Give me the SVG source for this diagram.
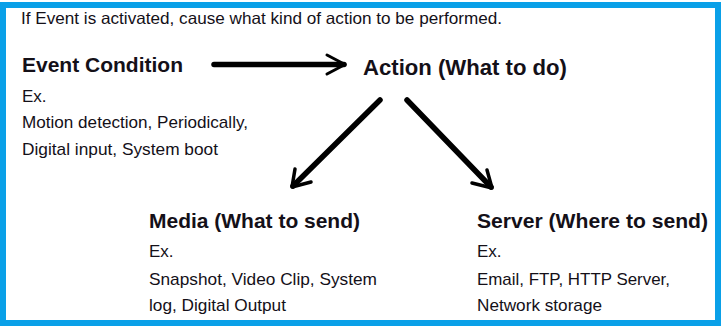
<svg xmlns="http://www.w3.org/2000/svg" width="723" height="326" viewBox="0 0 723 326">
<style>
text{font-family:"Liberation Sans",Arial,sans-serif;fill:#141018}
.t{font-size:16.5px}
.h{font-size:21px;font-weight:bold}
.b{font-size:17px}
.c{stroke:#000;fill:none;stroke-linecap:round;stroke-linejoin:round}
</style>
<rect x="0" y="0" width="723" height="326" fill="#fff"/>
<rect x="3" y="5" width="715" height="318" fill="#fff" stroke="#0aa0e8" stroke-width="6"/>
<text class="t" x="21" y="24" textLength="481" lengthAdjust="spacingAndGlyphs">If Event is activated, cause what kind of action to be performed.</text>
<g id="event">
<text class="h" x="22" y="72" textLength="161" lengthAdjust="spacingAndGlyphs">Event Condition</text>
<text class="b" x="22" y="102">Ex.</text>
<text class="b" x="22" y="128" textLength="226" lengthAdjust="spacingAndGlyphs">Motion detection, Periodically,</text>
<text class="b" x="22" y="155" textLength="196" lengthAdjust="spacingAndGlyphs">Digital input, System boot</text>
</g>
<g id="action">
<text class="h" x="363" y="75" font-size="22" textLength="204" lengthAdjust="spacingAndGlyphs" style="font-size:22px">Action (What to do)</text>
</g>
<g id="media">
<text class="h" x="149" y="228" textLength="211" lengthAdjust="spacingAndGlyphs">Media (What to send)</text>
<text class="b" x="149" y="257">Ex.</text>
<text class="b" x="149" y="285" textLength="228" lengthAdjust="spacingAndGlyphs">Snapshot, Video Clip, System</text>
<text class="b" x="149" y="311" textLength="137" lengthAdjust="spacingAndGlyphs">log, Digital Output</text>
</g>
<g id="server">
<text class="h" x="477" y="228" textLength="231" lengthAdjust="spacingAndGlyphs">Server (Where to send)</text>
<text class="b" x="477" y="257">Ex.</text>
<text class="b" x="477" y="285" textLength="193" lengthAdjust="spacingAndGlyphs">Email, FTP, HTTP Server,</text>
<text class="b" x="477" y="311" textLength="125" lengthAdjust="spacingAndGlyphs">Network storage</text>
</g>
<g id="connectors">
<path class="c" d="M214 64.5 H344" stroke-width="5.5" stroke-linecap="butt"/>
<path class="c" d="M327 55 L345 64.5 L327 74" stroke-width="3"/>
<path class="c" d="M380 100 L293 186" stroke-width="5.5"/>
<path class="c" d="M295 169 L292 187 L311 182" stroke-width="3.5"/>
<path class="c" d="M407 100 L491 187" stroke-width="5.5"/>
<path class="c" d="M487 170 L492 188 L472 183" stroke-width="3.5"/>
</g>
</svg>
